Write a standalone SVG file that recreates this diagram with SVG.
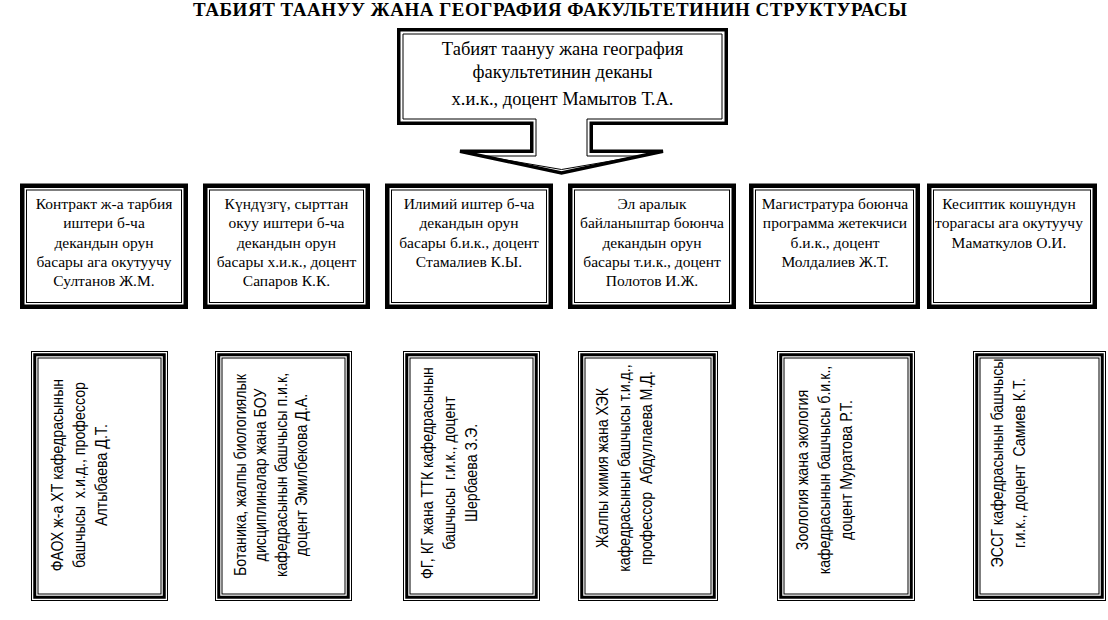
<svg xmlns="http://www.w3.org/2000/svg" width="1108" height="620" viewBox="0 0 1108 620">
<style>
.bg{fill:#fff}
.thick{fill:none;stroke:#000;stroke-width:4.5}
.thick3{fill:none;stroke:#000;stroke-width:3}
.thin{fill:none;stroke:#000;stroke-width:1}
.title{font-family:"Liberation Serif","Times New Roman",serif;font-weight:bold;font-size:19px;fill:#000;text-anchor:middle}
.dean{font-family:"Liberation Serif","Times New Roman",serif;font-size:18.5px;fill:#000;text-anchor:middle}
.mid{font-family:"Liberation Serif","Times New Roman",serif;font-size:15.5px;fill:#000;text-anchor:middle}
.rot{font-family:"Liberation Sans",Arial,sans-serif;font-size:16.5px;fill:#000;text-anchor:middle}
</style>
<rect class="bg" x="0" y="0" width="1108" height="620"/>
<text class="title" x="550" y="16" textLength="714">ТАБИЯТ ТААНУУ ЖАНА ГЕОГРАФИЯ ФАКУЛЬТЕТИНИН СТРУКТУРАСЫ</text>

<g id="connectors"></g>

<g id="dean">
<path d="M398.75,29.75 H726.25 V123.25 H591.25 V151.25 H663 L561.5,173 L460,151.25 H531.75 V123.25 H398.75 Z" fill="#fff" stroke="#000" stroke-width="3.5" stroke-linejoin="miter"/>
<path class="thin" d="M403,34 H722 V119 H587 V156 H640 L561.5,169.5 L483,156 H536 V119 H403 Z"/>
<text class="dean"><tspan x="562.5" y="55">Табият таануу жана география</tspan><tspan x="562.5" y="78">факультетинин деканы</tspan><tspan x="562.5" y="105">х.и.к., доцент Мамытов Т.А.</tspan></text>
</g>

<g id="deputy1">
<rect class="thick" x="22.25" y="185.75" width="163.5" height="121"/>
<rect class="thin" x="26.5" y="190" width="155" height="112.5"/>
<text class="mid"><tspan x="104" y="209">Контракт ж-а тарбия</tspan><tspan x="104" y="228.25">иштери б-ча</tspan><tspan x="104" y="247.5">декандын орун</tspan><tspan x="104" y="266.75">басары ага окутуучу</tspan><tspan x="104" y="286">Султанов Ж.М.</tspan></text>
</g>
<g id="deputy2">
<rect class="thick" x="205.25" y="185.75" width="162.5" height="121"/>
<rect class="thin" x="209.5" y="190" width="154" height="112.5"/>
<text class="mid"><tspan x="286.5" y="209">Күндүзгү, сырттан</tspan><tspan x="286.5" y="228.25">окуу иштери б-ча</tspan><tspan x="286.5" y="247.5">декандын орун</tspan><tspan x="286.5" y="266.75">басары х.и.к., доцент</tspan><tspan x="286.5" y="286">Сапаров К.К.</tspan></text>
</g>
<g id="deputy3">
<rect class="thick" x="387.25" y="185.75" width="163.5" height="121"/>
<rect class="thin" x="391.5" y="190" width="155" height="112.5"/>
<text class="mid"><tspan x="469" y="209">Илимий иштер б-ча</tspan><tspan x="469" y="228.25">декандын орун</tspan><tspan x="469" y="247.5">басары б.и.к., доцент</tspan><tspan x="469" y="266.75">Стамалиев К.Ы.</tspan></text>
</g>
<g id="deputy4">
<rect class="thick" x="570.25" y="185.75" width="163.5" height="121"/>
<rect class="thin" x="574.5" y="190" width="155" height="112.5"/>
<text class="mid"><tspan x="652" y="209">Эл аралык</tspan><tspan x="652" y="228.25">байланыштар боюнча</tspan><tspan x="652" y="247.5">декандын орун</tspan><tspan x="652" y="266.75">басары т.и.к., доцент</tspan><tspan x="652" y="286">Полотов И.Ж.</tspan></text>
</g>
<g id="master">
<rect class="thick" x="751.25" y="185.75" width="166.5" height="121"/>
<rect class="thin" x="755.5" y="190" width="158" height="112.5"/>
<text class="mid"><tspan x="835" y="209">Магистратура боюнча</tspan><tspan x="835" y="228.25">программа жетекчиси</tspan><tspan x="835" y="247.5">б.и.к., доцент</tspan><tspan x="835" y="266.75">Молдалиев Ж.Т.</tspan></text>
</g>
<g id="union">
<rect class="thick" x="929.25" y="185.75" width="165.5" height="121"/>
<rect class="thin" x="933.5" y="190" width="157" height="112.5"/>
<text class="mid"><tspan x="1009" y="209">Кесиптик кошундун</tspan><tspan x="1009" y="228.25">торагасы ага окутуучу</tspan><tspan x="1009" y="247.5">Маматкулов О.И.</tspan></text>
</g>

<g id="dept1">
<rect class="thin" x="31.5" y="351.5" width="136" height="249"/>
<rect class="thick3" x="34.75" y="354.75" width="129.5" height="242.5"/>
<rect class="thin" x="38" y="358" width="123" height="236"/>
<g transform="translate(63,475) rotate(-90) scale(0.86,1)"><text class="rot"><tspan x="0" y="0">ФАОХ ж-а ХТ кафедрасынын</tspan><tspan x="0" y="22">башчысы&#160; х.и.д., профессор</tspan><tspan x="0" y="44">Алтыбаева Д.Т.</tspan></text></g>
</g>
<g id="dept2">
<rect class="thin" x="215.5" y="351.5" width="136" height="249"/>
<rect class="thick3" x="218.75" y="354.75" width="129.5" height="242.5"/>
<rect class="thin" x="222" y="358" width="123" height="236"/>
<g transform="translate(246,475) rotate(-90) scale(0.86,1)"><text class="rot"><tspan x="0" y="0">Ботаника, жалпы биологиялык</tspan><tspan x="0" y="20.5">дисциплиналар жана БОУ</tspan><tspan x="0" y="41">кафедрасынын башчысы п.и.к,</tspan><tspan x="0" y="61.5">доцент Эмилбекова Д.А.</tspan></text></g>
</g>
<g id="dept3">
<rect class="thin" x="403.5" y="351.5" width="136" height="249"/>
<rect class="thick3" x="406.75" y="354.75" width="129.5" height="242.5"/>
<rect class="thin" x="410" y="358" width="123" height="236"/>
<g transform="translate(433,473) rotate(-90) scale(0.86,1)"><text class="rot"><tspan x="0" y="0">ФГ, КГ жана ТТК кафедрасынын</tspan><tspan x="0" y="22">башчысы&#160; г.и.к., доцент</tspan><tspan x="0" y="44">Шербаева З.Э.</tspan></text></g>
</g>
<g id="dept4">
<rect class="thin" x="578.5" y="351.5" width="139" height="249"/>
<rect class="thick3" x="581.75" y="354.75" width="132.5" height="242.5"/>
<rect class="thin" x="585" y="358" width="126" height="236"/>
<g transform="translate(608,468) rotate(-90) scale(0.86,1)"><text class="rot"><tspan x="0" y="0">Жалпы химия жана ХЭК</tspan><tspan x="0" y="22">кафедрасынын башчысы т.и.д.,</tspan><tspan x="0" y="44">профессор&#160; Абдуллаева М.Д.</tspan></text></g>
</g>
<g id="dept5">
<rect class="thin" x="777.5" y="351.5" width="137" height="249"/>
<rect class="thick3" x="780.75" y="354.75" width="130.5" height="242.5"/>
<rect class="thin" x="784" y="358" width="124" height="236"/>
<g transform="translate(808,470) rotate(-90) scale(0.86,1)"><text class="rot"><tspan x="0" y="0">Зоология жана экология</tspan><tspan x="0" y="22">кафедрасынын башчысы б.и.к.,</tspan><tspan x="0" y="44">доцент Муратова Р.Т.</tspan></text></g>
</g>
<g id="dept6">
<rect class="thin" x="973.5" y="351.5" width="132" height="249"/>
<rect class="thick3" x="976.75" y="354.75" width="125.5" height="242.5"/>
<rect class="thin" x="980" y="358" width="119" height="236"/>
<g transform="translate(1003,463) rotate(-90) scale(0.86,1)"><text class="rot"><tspan x="0" y="0">ЭССГ кафедрасынын башчысы</tspan><tspan x="0" y="22">г.и.к., доцент&#160; Самиев К.Т.</tspan></text></g>
</g>
</svg>
